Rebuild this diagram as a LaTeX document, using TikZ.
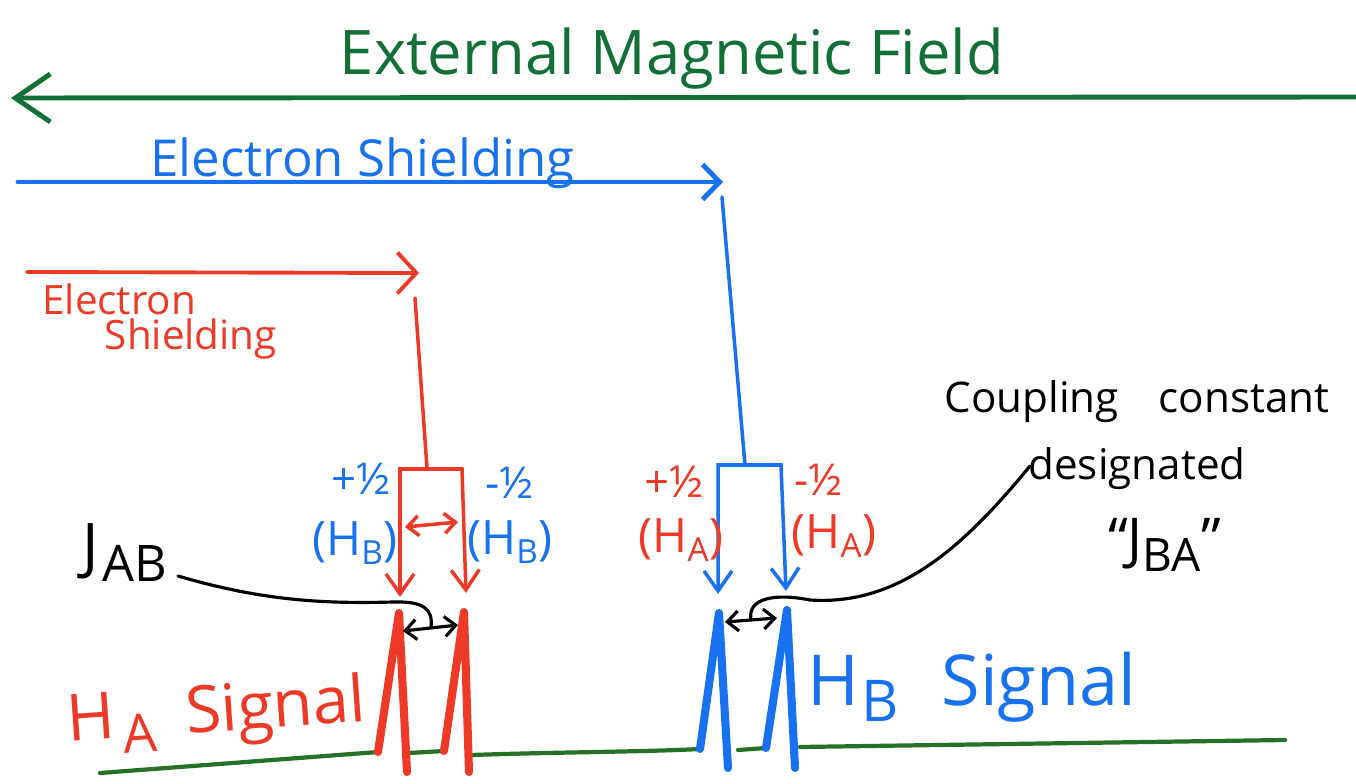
\documentclass[tikz,border=0pt]{standalone}
\usepackage{fontspec}
\setmainfont{Open Sans}
\usetikzlibrary{arrows.meta}

\definecolor{fieldgreen}{RGB}{18,112,54}
\definecolor{basegreen}{RGB}{40,112,40}
\definecolor{shieldblue}{RGB}{24,114,240}
\definecolor{shieldred}{RGB}{236,58,38}
\newcommand{\handsub}[1]{\raisebox{-0.45ex}{\scalebox{0.82}{#1}}}

\begin{document}
\begin{tikzpicture}[x=0.02cm, y=-0.02cm, line cap=round, line join=round,
    downbarb/.style={{Straight Barb[length=0.4cm, width=0.56cm]}-{Straight Barb[length=0.4cm, width=0.56cm]}},
    splitarrow/.style={{Straight Barb[length=0.22cm, width=0.4cm]}-{Straight Barb[length=0.22cm, width=0.4cm]}},
    peak/.style={line width=4.6pt},
    spinlabel/.style={font=\fontsize{25}{25}\selectfont},
    hlabel/.style={font=\fontsize{27}{27}\selectfont}]
    \useasboundingbox (0,0) rectangle (1356,784);

    % 1. External field, right to left
    \node[fieldgreen, anchor=base, font=\fontsize{35}{40}\selectfont] (field) at (672,75) {External Magnetic Field};
    \coordinate (fieldR) at (1356,97);
    \coordinate (fieldL) at (11,98);
    \draw[fieldgreen, line width=2.8pt, -{Straight Barb[length=0.7cm, width=0.96cm]}] (fieldR) -- (fieldL);

    % 2. Shielding of H_B (blue)
    \node[shieldblue, anchor=base west, inner sep=0pt, font=\fontsize{29}{30}\selectfont] (shieldB) at (150,176) {Electron Shielding};
    \coordinate (bArrowL) at (18,182);
    \coordinate (bArrowR) at (723,182);
    \draw[shieldblue, line width=2.8pt, -{Straight Barb[length=0.34cm, width=0.7cm]}] (bArrowL) -- (bArrowR);
    \coordinate (bStem) at (722,197);
    \coordinate (bJoin) at (745,465);
    \draw[shieldblue, line width=2pt] (bStem) -- (bJoin);
    \coordinate (bL) at (718,465);
    \coordinate (bR) at (781,465);
    \coordinate (bLtip) at (718,594);
    \coordinate (bRtip) at (786,591);
    \draw[shieldblue, line width=2pt, line join=miter, downbarb] (bLtip) -- (bL) -- (bR) -- (bRtip);

    % 3. Shielding of H_A (red)
    \node[shieldred, anchor=north west, inner sep=0pt, align=left, font=\fontsize{23}{20}\selectfont] (shieldA) at (42,283) {Electron\\\hspace*{1.25cm}Shielding};
    \coordinate (rArrowL) at (27,272);
    \coordinate (rArrowR) at (419,273);
    \draw[shieldred, line width=2.2pt, -{Straight Barb[length=0.38cm, width=0.82cm]}] (rArrowL) -- (rArrowR);
    \coordinate (rStem) at (415,298);
    \coordinate (rJoin) at (427,468);
    \draw[shieldred, line width=2pt] (rStem) -- (rJoin);
    \coordinate (rL) at (400,469);
    \coordinate (rR) at (462,469);
    \coordinate (rLtip) at (400,597);
    \coordinate (rRtip) at (466,593);
    \draw[shieldred, line width=2pt, line join=miter, downbarb] (rLtip) -- (rL) -- (rR) -- (rRtip);
    \coordinate (rsL) at (405,527);
    \coordinate (rsR) at (458,522);
    \draw[shieldred, line width=2pt, splitarrow] (rsL) -- (rsR);

    % 4. Spin labels
    \node[shieldblue, spinlabel] (bPlus) at (361,479) {+½};
    \node[shieldblue, hlabel] (bPlusH) at (355,543) {(H\textsubscript{B})};
    \node[shieldblue, spinlabel] (bMinus) at (510,483) {-½};
    \node[shieldblue, hlabel] (bMinusH) at (510,542) {(H\textsubscript{B})};
    \node[shieldred, spinlabel] (rPlus) at (674,482) {+½};
    \node[shieldred, hlabel] (rPlusH) at (681,540) {(H\textsubscript{A})};
    \node[shieldred, spinlabel] (rMinus) at (819,480) {-½};
    \node[shieldred, hlabel] (rMinusH) at (834,536) {(H\textsubscript{A})};

    % 5. Spectrum baseline and peaks
    \draw[basegreen, line width=2.4pt] (100,773) -- (378,752);
    \draw[basegreen, line width=2.4pt] (409,753) -- (444,751);
    \draw[basegreen, line width=2.4pt] (472,755) .. controls (560,752) and (640,752) .. (700,749);
    \draw[basegreen, line width=2.4pt] (738,750) -- (766,748);
    \draw[basegreen, line width=2.4pt] (800,747) -- (1285,740);
    \draw[shieldred, peak] (378,752) -- (399,613) -- (407,772);
    \draw[shieldred, peak] (444,751) -- (464,612) -- (469,772);
    \draw[shieldblue, peak] (700,749) -- (719,613) -- (728,768);
    \draw[shieldblue, peak] (766,748) -- (787,610) -- (795,768);

    % 6. Coupling constants
    \coordinate (jabL) at (403,631);
    \coordinate (jabR) at (458,625);
    \draw[line width=1.8pt, splitarrow] (jabL) -- (jabR);
    \coordinate (jbaL) at (725,622);
    \coordinate (jbaR) at (777,618);
    \draw[line width=1.8pt, splitarrow] (jbaL) -- (jbaR);
    \node[anchor=base west, inner sep=0pt, font=\fontsize{35}{35}\selectfont] (jab) at (82,567) {J\kern0.08cm\handsub{AB}};
    \coordinate (jabTail) at (178,576);
    \draw[line width=1.8pt] (jabTail) .. controls (260,600) and (320,604) .. (393,602)
        .. controls (425,601) and (433,610) .. (431,627);
    \node[anchor=north, inner sep=0pt, align=center, font=\fontsize{24}{38}\selectfont] (jba) at (1137,380)
        {Coupling\hspace{0.8cm}constant\\designated\\[0.25cm]\hspace*{1.1cm}{\fontsize{32}{32}\selectfont “J\handsub{BA}”}};
    \coordinate (jbaTail) at (1030,466);
    \draw[line width=1.8pt] (751,620) .. controls (747,598) and (775,593) .. (810,600)
        .. controls (900,606) and (965,545) .. (jbaTail);

    % 7. Signal names
    \node[shieldred, anchor=base west, inner sep=0pt, rotate=4, font=\fontsize{37}{37}\selectfont] (sigA) at (68,742) {H\kern0.15cm\handsub{A}\hspace{0.6cm}Signal};
    \node[shieldblue, anchor=base west, inner sep=0pt, font=\fontsize{40}{40}\selectfont] (sigB) at (807,705) {H\kern0.05cm\handsub{B}\hspace{0.85cm}Signal};
\end{tikzpicture}
\end{document}
